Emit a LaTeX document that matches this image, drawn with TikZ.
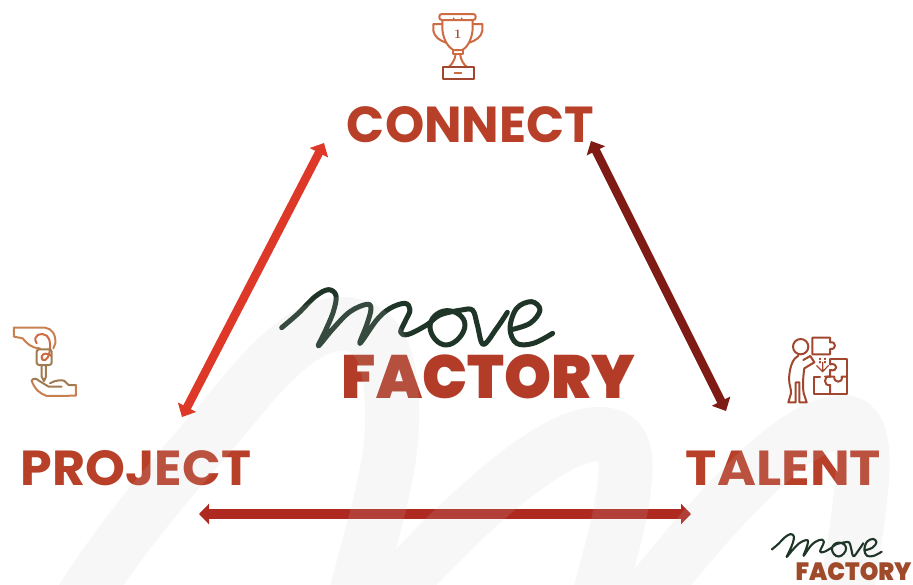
\documentclass[tikz,border=0pt]{standalone}
\usepackage{fontspec}
\usetikzlibrary{arrows.meta}
\newfontfamily\labfont{Poppins}[BoldFont={Poppins Bold}]
\newfontfamily\facfont{Poppins}[BoldFont={Poppins Black}]
\definecolor{labred}{HTML}{B83F28}
\definecolor{facred}{HTML}{B23C28}
\definecolor{facsmall}{HTML}{A04A2C}
\definecolor{arrL}{HTML}{DE3828}
\definecolor{arrR}{HTML}{7E1B14}
\definecolor{arrB}{HTML}{AE2A20}
\definecolor{movegreen}{HTML}{1F3528}
\definecolor{iconA}{HTML}{CF6B42}
\definecolor{iconB}{HTML}{C98050}
\definecolor{iconC}{HTML}{A07A50}
\definecolor{iconD}{HTML}{A2472F}
\tikzset{
  x=1pt,y=-1pt,
  lab/.style={inner sep=0pt,text=labred,anchor=center},
  fac/.style={inner sep=0pt,text=facred,anchor=center},
  dbl/.style={line width=8.5pt,{Triangle[length=11pt,width=20pt]}-{Triangle[length=11pt,width=20pt]}},
  dblb/.style={line width=10pt,{Triangle[length=10pt,width=20pt]}-{Triangle[length=10pt,width=20pt]}},
  ic/.style={line width=2pt,line join=round,line cap=round},
  sw/.style={line width=54pt,draw=black!20,opacity=.14,line join=round},
  movestroke/.style={draw=movegreen,line cap=round,line join=round},
}
\newcommand{\movecurve}{%
  plot[smooth,tension=.6] coordinates {(35,158)(85,115)(135,65)(175,44)(198,62)(190,110)(165,170)(145,213)
  (190,160)(240,110)(290,88)(303,102)(290,150)(270,205)(320,135)(360,100)(405,85)(420,105)(405,140)(392,172)(415,178)(470,150)(510,120)(575,105)(608,106)(622,150)(640,208)(680,160)(712,112)}
  plot[smooth cycle,tension=.9] coordinates {(480,155)(530,107)(585,150)(530,210)}
  plot[smooth,tension=.6] coordinates {(720,165)(780,145)(810,105)(785,80)(740,100)(720,160)(740,205)(790,205)(848,175)}
}
\begin{document}
\begin{tikzpicture}
\useasboundingbox (0,0) rectangle (913,584);
\fill[white] (0,0) rectangle (913,584);

% text labels
\node[lab] (connect) at (470.5,124.5) {\resizebox{247pt}{36pt}{\labfont\bfseries CONNECT}};
\node[lab] (project) at (136,468.5) {\resizebox{230pt}{35pt}{\labfont\bfseries PROJECT}};
\node[lab] (talent) at (783.5,468) {\resizebox{195pt}{34.5pt}{\labfont\bfseries TALENT}};
\node[fac] (factory) at (488.5,377) {\resizebox{293pt}{44pt}{\facfont\bfseries FACTORY}};

% arrows
\coordinate (cl) at (324,143);
\coordinate (pr) at (182,417);
\coordinate (cr) at (591,141);
\coordinate (tl) at (726,411);
\coordinate (pb) at (199,514);
\coordinate (tb) at (691,514);
\draw[dbl,draw=arrL,fill=arrL] (cl) -- (pr);
\draw[dbl,draw=arrR,fill=arrR] (cr) -- (tl);
\draw[dblb,draw=arrB,fill=arrB] (pb) -- (tb);

% move logo (large)
\begin{scope}[shift={(270,275)},scale=1/3]
  \draw[movestroke,line width=5pt] \movecurve;
\end{scope}

% translucent swoosh over everything
\begin{scope}
\clip (0,0) rectangle (913,584);
\draw[sw] (72,615) .. controls (130,520) and (190,460) .. (247,390)
   .. controls (285,345) and (315,324) .. (342,324)
   .. controls (380,324) and (393,360) .. (392,420)
   .. controls (392,480) and (365,550) .. (350,620)
   -- (368,620) .. controls (420,560) and (540,432) .. (600,434)
   .. controls (622,434) and (628,450) .. (625,480)
   .. controls (620,530) and (604,570) .. (594,620)
   -- (628,620) .. controls (700,530) and (790,420) .. (845,422)
   .. controls (862,424) and (864,450) .. (862,480)
   .. controls (858,530) and (848,580) .. (842,620);
\end{scope}

% small logo
\begin{scope}[shift={(772,533)},scale=.405,shift={(-282,-287)}]
  \begin{scope}[shift={(270,275)},scale=1/3]
    \draw[movestroke,line width=2.1pt] \movecurve;
  \end{scope}
\end{scope}
\node[fac,text=facsmall] (factorysmall) at (853.5,571.5) {\resizebox{116pt}{18pt}{\facfont\bfseries FACTORY}};

% trophy icon
\begin{scope}[shift={(420,0)},scale=1/3]
  \draw[ic,draw=iconA,rounded corners=2.5pt] (58,42) rectangle (167,60);
  \draw[ic,draw=iconA] (67,60) -- (67,88) .. controls (70,125) and (90,145) .. (100,150) -- (127,150) .. controls (137,145) and (155,125) .. (158,88) -- (158,60);
  \draw[ic,draw=iconA] (66,72) -- (40,72) -- (40,92) .. controls (42,110) and (60,122) .. (78,128);
  \draw[ic,draw=iconA] (160,72) -- (187,72) -- (187,92) .. controls (185,110) and (167,122) .. (148,128);
  \draw[ic,draw=iconA] (98,150) rectangle (128,162);
  \draw[ic,draw=iconA] (107,162) .. controls (105,180) and (95,195) .. (85,202);
  \draw[ic,draw=iconA] (120,162) .. controls (122,180) and (132,195) .. (142,202);
  \draw[ic,draw=iconD] (68,202) rectangle (162,238);
  \draw[ic,draw=iconA] (104,218) -- (124,218);
  \fill[iconC] (101,55) circle (3) (125,55) circle (3);
  \node[inner sep=0pt,text=iconD] (one) at (113,103) {\fontsize{13pt}{13pt}\selectfont\bfseries 1};
\end{scope}

% key icon
\begin{scope}[shift={(0,315)},scale=1/3]
  \draw[ic,draw=iconB] (42,38) -- (135,38) .. controls (155,40) and (168,58) .. (166,85) -- (160,100);
  \draw[ic,draw=iconB] (42,38) -- (42,65) -- (68,70) .. controls (80,85) and (95,100) .. (120,100);
  \draw[ic,draw=iconA] (110,85) .. controls (95,60) and (125,50) .. (140,62) .. controls (155,75) and (150,100) .. (148,115) .. controls (145,135) and (125,145) .. (125,125) .. controls (128,112) and (145,115) .. (153,122);
  \draw[ic,draw=iconC,rounded corners=2.5pt] (110,103) rectangle (155,150);
  \draw[ic,draw=iconC] (125,150) -- (125,185) -- (132,198) -- (138,185) -- (138,150);
  \draw[ic,draw=iconC] (95,197) .. controls (100,188) and (110,190) .. (118,198) -- (146,215) -- (185,215);
  \draw[ic,draw=iconC] (150,205) .. controls (165,195) and (185,195) .. (192,197) -- (206,210) -- (228,210);
  \draw[ic,draw=iconB] (228,210) -- (228,242) -- (140,243) .. controls (120,235) and (105,225) .. (95,197);
\end{scope}

% talent icon
\begin{scope}[shift={(775,325)},scale=1/3,draw=iconD]
  \draw[ic] (77,65) circle (23);
  \draw[ic] (70,92) .. controls (55,100) and (45,120) .. (42,160) .. controls (42,180) and (50,195) .. (48,205) -- (40,232) -- (62,232) -- (62,172) -- (73,172) -- (73,232) -- (95,232) -- (86,205) .. controls (82,180) and (85,150) .. (88,130) -- (118,112) -- (106,93) -- (85,105);
  \draw[ic] (112,38) -- (165,38) -- (165,52) .. controls (185,48) and (185,75) .. (165,72) -- (165,88) -- (112,88) -- cycle;
  \draw[ic] (165,103) -- (215,103) -- (215,208) -- (118,208) -- (118,155) -- (135,155);
  \draw[ic] (165,103) -- (165,118) .. controls (190,112) and (190,142) .. (165,135) -- (165,155) -- (150,155);
  \draw[ic] (165,155) .. controls (145,150) and (145,185) .. (165,180) -- (165,208);
  \draw[ic] (165,155) -- (178,155) .. controls (175,175) and (205,175) .. (200,155) -- (215,155);
  \draw[ic,line width=1.2pt] (143,112) -- (143,140) (125,122) -- (143,140) -- (160,122);
  \draw[ic,line width=1.2pt,dotted] (135,100) -- (135,115) (150,100) -- (150,115);
\end{scope}
\end{tikzpicture}
\end{document}
